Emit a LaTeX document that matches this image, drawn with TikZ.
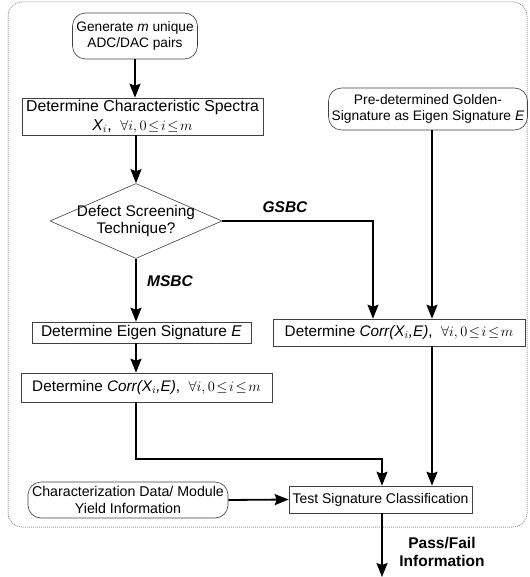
\documentclass[tikz,border=0pt]{standalone}
\usepackage{fontspec}
\setmainfont{Liberation Sans}
\usetikzlibrary{shapes.geometric,arrows.meta,calc}
\newcommand{\fs}[1]{\fontsize{#1}{#1}\selectfont}
\newcommand{\rng}{$\forall i,0\!\le\! i\!\le\! m$}
\begin{document}
\begin{tikzpicture}[x=1pt,y=-1pt,
  every node/.style={align=center, inner sep=0pt},
  box/.style={draw=black!75, line width=0.6pt, anchor=center},
  rbox/.style={box, rounded corners=13pt},
  flow/.style={line width=1.8pt, -{Stealth[length=14pt,width=11pt,inset=2pt]}},
  lbl/.style={font=\fs{15.5}\bfseries}]
\useasboundingbox (0,0) rectangle (529,577);
\draw[black!70, line width=0.5pt, dash pattern=on 1pt off 1pt, rounded corners=14pt] (8,2) rectangle (527,527);

\node[rbox, minimum width=125pt, minimum height=46pt, font=\fs{13.7}] (gen) at (135,36) {Generate \textit{m} unique\\[2pt]ADC/DAC pairs};
\node[box, minimum width=241pt, minimum height=37pt, font=\fs{15.8}] (spec) at (142.5,116.5) {Determine Characteristic Spectra\\[3pt]{\itshape X}$_i$,\ \ \rng};
\node[box, diamond, aspect=2.3, minimum width=172pt, minimum height=75pt,
  label={[font=\fs{15.4}, align=center]center:Defect Screening\\[2pt]Technique?}] (dia) at (136,221) {};
\node[box, minimum width=219pt, minimum height=21pt, font=\fs{15.5}] (eig) at (141.5,332.5) {Determine Eigen Signature \textit{E}};
\node[box, minimum width=251pt, minimum height=29pt, font=\fs{15.3}] (corrL) at (146.5,387.5) {Determine \textit{Corr(X$_i$,E)},\ \ \rng};
\node[rbox, minimum width=199pt, minimum height=42pt, font=\fs{13.8}] (gold) at (428,109) {Pre-determined Golden-\\[3pt]Signature as Eigen Signature \textit{E}};
\node[box, minimum width=252pt, minimum height=27pt, font=\fs{15.3}] (corrR) at (399,332.5) {Determine \textit{Corr(X$_i$,E)},\ \ \rng};
\node[box, minimum width=183pt, minimum height=27pt, font=\fs{14}] (test) at (380.5,499.5) {Test Signature Classification};
\node[rbox, minimum width=200pt, minimum height=36pt, font=\fs{14.2}] (char) at (128,500) {Characterization Data/ Module\\[2pt]Yield Information};
\coordinate (out) at (382,577);

\node[font=\fs{15.5}\bfseries\itshape] (gsbc) at (285,207) {GSBC};
\node[font=\fs{15.5}\bfseries\itshape] (msbc) at (170,281) {MSBC};
\node[lbl] (pf) at (442,552) {Pass/Fail\\[3pt]Information};

\draw[flow] (gen.south) -- (gen.south |- spec.north);
\draw[flow] (dia.north |- spec.south) -- (dia.north);
\draw[flow] (dia.east) -| ([xshift=-26pt]corrR.north);
\draw[flow] ([xshift=4pt]gold.south) -- ([xshift=4pt]gold.south |- corrR.north);
\draw[flow] (dia.south) -- (dia.south |- eig.north);
\draw[flow] (dia.south |- eig.south) -- (dia.south |- corrL.north);
\draw[flow] (dia.south |- corrL.south) -- (136,459) -| (out |- test.north);
\draw[flow] ([xshift=4pt]gold.south |- corrR.south) -- ([xshift=4pt]gold.south |- test.north);
\draw[flow] (char.east) -- (test.west);
\draw[flow] (out |- test.south) -- (out);
\end{tikzpicture}
\end{document}
